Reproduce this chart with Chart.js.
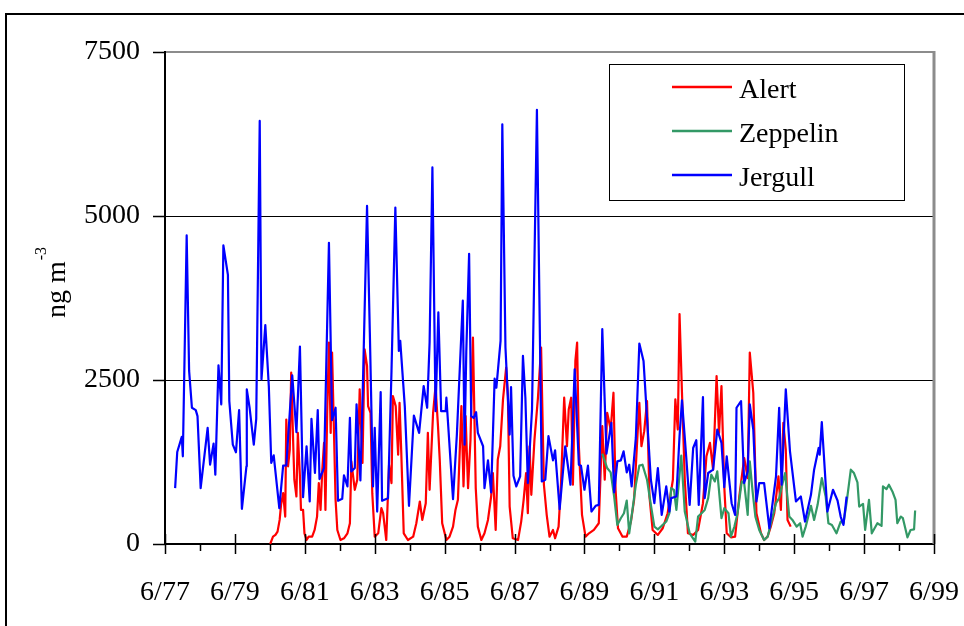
<!DOCTYPE html>
<html>
<head>
<meta charset="utf-8">
<script src="https://cdn.jsdelivr.net/npm/chart.js@4.4.1/dist/chart.umd.min.js"></script>
<style>
  html, body { margin: 0; padding: 0; background: #fff; overflow: hidden; }
  #wrap { width: 964px; height: 626px; }
</style>
</head>
<body>
<div id="wrap"><canvas id="chart" width="964" height="626"></canvas></div>
<script>
// time is given in years after June 1977 (0 = 6/77, 22 = 6/99)
const xTickLabels = ['6/77', '6/79', '6/81', '6/83', '6/85', '6/87', '6/89', '6/91', '6/93', '6/95', '6/97', '6/99'];
const yTicks = [0, 2500, 5000, 7500];
const seriesNames = ['Alert', 'Zeppelin', 'Jergull'];

const alertT = [3.01,3.09,3.16,3.22,3.28,3.32,3.38,3.44,3.47,3.52,3.57,3.61,3.67,3.70,3.76,3.80,3.86,3.89,3.95,3.99,
  4.05,4.11,4.21,4.28,4.35,4.40,4.45,4.50,4.55,4.59,4.64,4.69,4.74,4.78,4.83,4.88,4.93,5.02,5.12,5.22,
  5.29,5.33,5.43,5.50,5.57,5.65,5.71,5.78,5.81,5.88,5.93,6.00,6.10,6.19,6.24,6.33,6.41,6.48,6.52,6.60,
  6.67,6.71,6.76,6.83,6.95,7.10,7.19,7.29,7.36,7.46,7.52,7.57,7.67,7.74,7.81,7.86,7.93,8.05,8.14,8.24,
  8.31,8.38,8.48,8.54,8.60,8.67,8.74,8.81,8.89,8.95,9.05,9.14,9.24,9.33,9.38,9.46,9.52,9.59,9.67,9.76,
  9.81,9.86,9.95,10.10,10.19,10.26,10.33,10.38,10.43,10.48,10.57,10.67,10.76,10.84,
  10.92,11.00,11.10,11.16,11.26,11.33,11.42,11.50,11.55,11.62,11.67,11.74,11.79,11.84,11.93,12.03,12.13,12.27,12.41,12.51,
  12.58,12.65,12.75,12.83,12.89,12.96,13.09,13.21,13.33,13.42,13.50,13.57,13.63,13.71,13.79,13.86,13.95,14.10,14.24,14.38,
  14.53,14.60,14.67,14.72,14.79,14.87,14.96,15.11,15.25,15.39,15.49,15.59,15.68,15.78,15.85,15.92,16.00,16.07,16.19,16.31,
  16.43,16.57,16.67,16.73,16.83,16.92,17.05,17.14,17.24,17.33,17.43,17.55,17.62,17.69,17.76,17.81,17.90];
const alertV = [0,112,138,189,367,597,775,418,1898,1184,1439,2612,1490,980,724,1694,1031,520,520,163,
  61,112,112,214,418,929,520,1133,1541,520,2000,3071,1694,2918,1796,673,214,61,87,163,
  316,1260,826,980,2357,1235,2969,2714,2102,2000,775,112,163,546,469,61,1209,929,2255,2102,
  1362,2153,1388,163,61,112,316,648,367,622,1694,826,2000,2408,1796,1286,316,61,112,265,
  520,673,2102,878,1949,852,1592,3148,852,265,61,163,367,724,1082,214,1286,1490,2204,2689,
  2255,571,87,61,342,673,1082,469,1490,750,1592,2230,2995,903,
  444,112,214,87,265,929,2230,1490,2051,2230,903,2791,3071,1490,444,112,163,214,316,1796,
  980,2000,1745,2306,827,240,112,112,342,673,1490,2153,1490,1720,2179,724,214,138,240,469,
  980,2204,1745,3505,2306,980,163,138,214,622,1337,1541,1133,2561,1694,2408,877,163,102,112,
  724,1311,1005,2918,2306,469,163,61,112,265,469,1031,520,1847,1439,367,265];

const zepT = [12.51,12.65,12.75,12.85,12.94,13.04,13.13,13.21,13.28,13.38,13.47,13.57,13.66,13.79,13.90,14.00,14.10,14.21,14.34,14.43,
  14.48,14.56,14.63,14.77,14.87,15.01,15.17,15.25,15.35,15.44,15.54,15.63,15.73,15.80,15.92,16.00,16.12,16.19,16.29,
  16.38,16.50,16.57,16.67,16.73,16.81,16.89,17.00,17.14,17.24,17.36,17.48,17.57,17.67,17.74,17.86,17.95,18.07,18.17,18.24,
  18.33,18.48,18.57,18.67,18.79,18.90,18.98,19.08,19.21,19.33,19.41,19.50,19.62,19.71,19.81,19.86,19.97,20.03,20.14,20.22,
  20.38,20.50,20.54,20.64,20.71,20.81,20.90,20.95,21.05,21.11,21.24,21.33,21.43,21.46];
const zepV = [1378,1158,1092,724,291,393,469,663,163,546,903,1194,1209,980,597,265,224,276,342,469,
  852,826,520,1347,495,163,36,418,469,520,699,1056,954,1107,393,546,469,112,265,
  469,954,929,444,1260,801,418,214,61,112,367,622,699,929,1082,418,367,265,316,112,
  265,582,367,597,1005,724,316,291,163,342,316,633,1133,1082,939,571,612,214,673,163,
  316,276,877,837,903,801,673,316,418,393,102,214,224,510];

const jerT = [0.29,0.35,0.48,0.51,0.62,0.69,0.77,0.88,0.93,1.02,1.22,1.29,1.39,1.44,1.53,1.61,1.67,1.80,1.84,1.94,
  2.03,2.12,2.20,2.33,2.34,2.42,2.54,2.61,2.71,2.76,2.87,2.97,3.04,3.11,3.27,3.38,3.47,3.64,3.76,3.86,
  3.95,4.05,4.14,4.19,4.29,4.37,4.42,4.55,4.69,4.78,4.88,4.95,5.07,5.12,5.22,
  5.29,5.33,5.43,5.48,5.59,5.67,5.78,5.86,5.95,6.00,6.07,6.17,6.21,6.38,6.48,6.59,6.69,6.73,6.86,6.98,
  7.12,7.27,7.40,7.50,7.57,7.65,7.74,7.82,7.90,8.03,8.05,8.24,8.35,8.52,8.57,8.62,8.70,8.76,8.83,8.90,
  8.95,9.10,9.14,9.24,9.33,9.43,9.48,9.60,9.65,9.74,9.86,9.90,9.97,10.05,10.16,10.24,10.31,10.38,10.50,10.64,
  10.78,10.88,10.97,11.10,11.16,11.29,11.45,11.60,11.72,11.84,11.90,12.00,12.10,12.20,12.32,12.41,12.51,12.63,12.77,12.85,
  12.94,13.04,13.12,13.21,13.28,13.35,13.47,13.57,13.69,13.79,13.90,14.00,14.10,14.21,14.34,14.43,14.48,14.63,14.72,14.79,
  14.91,15.01,15.11,15.20,15.27,15.39,15.44,15.54,15.68,15.80,15.92,16.00,16.07,16.21,16.31,
  16.35,16.48,16.57,16.67,16.73,16.83,16.92,17.00,17.14,17.29,17.48,17.57,17.64,17.76,17.88,18.05,18.19,18.31,18.48,18.57,
  18.70,18.73,18.79,18.95,19.11,19.24,19.33,19.41,19.50];
const jerV = [852,1403,1633,1337,4704,2638,2077,2041,1949,852,1770,1209,1530,1056,2724,2128,4551,4102,2178,1515,
  1398,2041,536,1184,2357,2077,1515,1908,6449,2510,3337,2408,1235,1352,546,1194,1199,2571,1704,3010,
  714,1490,648,1908,1082,2041,990,1158,4592,1888,2077,658,689,1046,878,
  1923,1107,1158,2128,969,2612,5153,3224,878,1770,495,2316,658,699,2638,5128,2944,3097,2102,582,
  1959,1694,2408,2077,3071,5740,2025,3530,2025,2025,2230,684,1668,3709,1515,2944,4423,1949,1923,2010,
  1694,1490,852,1276,786,2520,2383,3097,6398,2995,1668,2393,1041,878,1031,2867,2230,929,2051,6617,
  954,980,1643,1275,1428,531,1490,903,2663,1209,1194,827,1194,495,582,597,3275,1378,1847,786,
  1260,1275,1413,1092,1209,878,1617,3056,2791,1923,980,622,1158,444,878,495,699,724,1643,2189,
  1337,597,1464,1582,597,2240,699,1082,1133,1745,1541,867,1337,622,444,
  2077,2179,929,1107,2128,1745,648,929,929,240,1031,2077,903,2357,1413,648,724,342,750,1133,
  1464,1362,1857,495,827,663,418,291,724];

const seriesColors = {
  Alert: '#ff0000',
  Zeppelin: '#339966',
  Jergull: '#0000ff'
};

const FONT = "'Liberation Serif', 'Times New Roman', serif";

function toPoints(ts, vs) {
  return ts.map((t, i) => ({ x: t, y: vs[i] }));
}

// outer frame, plot border, tick marks, legend box and axis title
const decorPlugin = {
  id: 'decor',
  beforeDraw(chart) {
    const ctx = chart.ctx;
    ctx.save();
    ctx.fillStyle = '#fff';
    ctx.fillRect(0, 0, chart.width, chart.height);
    ctx.strokeStyle = '#000';
    ctx.lineWidth = 2;
    ctx.strokeRect(6, 14, chart.width + 20, chart.height + 20);
    ctx.restore();
  },
  afterDraw(chart) {
    const ctx = chart.ctx;
    const area = chart.chartArea;
    const xs = chart.scales.x;
    const ys = chart.scales.y;
    ctx.save();

    // right border of the plot
    ctx.strokeStyle = '#8c8c8c';
    ctx.lineWidth = 3;
    ctx.beginPath();
    ctx.moveTo(area.right, area.top - 1);
    ctx.lineTo(area.right, area.bottom);
    ctx.stroke();

    // tick marks
    ctx.strokeStyle = '#000';
    ctx.lineWidth = 1.5;
    ctx.beginPath();
    yTicks.forEach(v => {
      const py = Math.round(ys.getPixelForValue(v)) + 0.5;
      ctx.moveTo(area.left - 12, py);
      ctx.lineTo(area.left, py);
    });
    for (let i = 0; i <= 22; i++) {
      const px = Math.round(xs.getPixelForValue(i)) + 0.5;
      if (i % 2 === 0) {
        ctx.moveTo(px, area.bottom - 10);
        ctx.lineTo(px, area.bottom + 10);
      } else {
        ctx.moveTo(px, area.bottom);
        ctx.lineTo(px, area.bottom + 7);
      }
    }
    ctx.stroke();

    // legend
    const lx = area.right - 325, ly = area.top + 12;
    ctx.strokeStyle = '#000';
    ctx.lineWidth = 1;
    ctx.strokeRect(lx + 0.5, ly + 0.5, 295, 136);
    ctx.font = '28px ' + FONT;
    ctx.textBaseline = 'alphabetic';
    ctx.textAlign = 'left';
    chart.data.datasets.forEach((ds, i) => {
      const yy = ly + 23 + i * 44;
      ctx.strokeStyle = ds.borderColor;
      ctx.lineWidth = 2.5;
      ctx.beginPath();
      ctx.moveTo(lx + 63, yy);
      ctx.lineTo(lx + 123, yy);
      ctx.stroke();
      ctx.fillStyle = '#000';
      ctx.fillText(ds.label, lx + 130, yy + 11);
    });

    // y axis title with superscript
    ctx.translate(65, 318);
    ctx.rotate(-Math.PI / 2);
    ctx.fillStyle = '#000';
    ctx.font = '28px ' + FONT;
    ctx.fillText('ng m', 0, 0);
    const w = ctx.measureText('ng m').width;
    ctx.font = '16px ' + FONT;
    ctx.fillText('-3', w + 1, -19);
    ctx.restore();
  }
};

const chartCtx = document.getElementById('chart').getContext('2d');

const chart = new Chart(chartCtx, {
  type: 'line',
  data: {
    datasets: [
      { label: seriesNames[0], data: toPoints(alertT, alertV), borderColor: seriesColors.Alert, order: 2 },
      { label: seriesNames[1], data: toPoints(zepT, zepV), borderColor: seriesColors.Zeppelin, order: 1 },
      { label: seriesNames[2], data: toPoints(jerT, jerV), borderColor: seriesColors.Jergull, order: 0 }
    ]
  },
  options: {
    responsive: false,
    animation: false,
    devicePixelRatio: 1,
    layout: { padding: { top: 52, right: 30, left: 0, bottom: 0 } },
    plugins: {
      legend: { display: false },
      tooltip: { enabled: false }
    },
    elements: {
      point: { radius: 0 },
      line: { borderWidth: 2.2, tension: 0, borderJoinStyle: 'round', fill: false }
    },
    scales: {
      x: {
        type: 'linear',
        min: 0,
        max: 22,
        ticks: {
          stepSize: 1,
          autoSkip: false,
          maxRotation: 0,
          padding: 32,
          color: '#000',
          font: { family: FONT, size: 28 },
          callback: v => (v % 2 === 0 ? xTickLabels[v / 2] : '')
        },
        grid: { drawOnChartArea: false, drawTicks: false },
        border: { color: '#000', width: 2 },
        afterFit: s => {
          s.height = 82;
          s.paddingLeft = 0;
          s.paddingRight = 0;
        }
      },
      y: {
        min: 0,
        max: 7500,
        ticks: {
          stepSize: 2500,
          padding: 25,
          color: '#000',
          font: { family: FONT, size: 28 },
          callback: v => String(v)
        },
        grid: {
          drawTicks: false,
          color: c => (c.tick.value === 7500 ? '#8c8c8c' : '#000'),
          lineWidth: c => (c.tick.value === 7500 ? 2 : 1)
        },
        border: { color: '#000', width: 2 },
        afterFit: s => { s.width = 165; }
      }
    }
  },
  plugins: [decorPlugin]
});
</script>
</body>
</html>
